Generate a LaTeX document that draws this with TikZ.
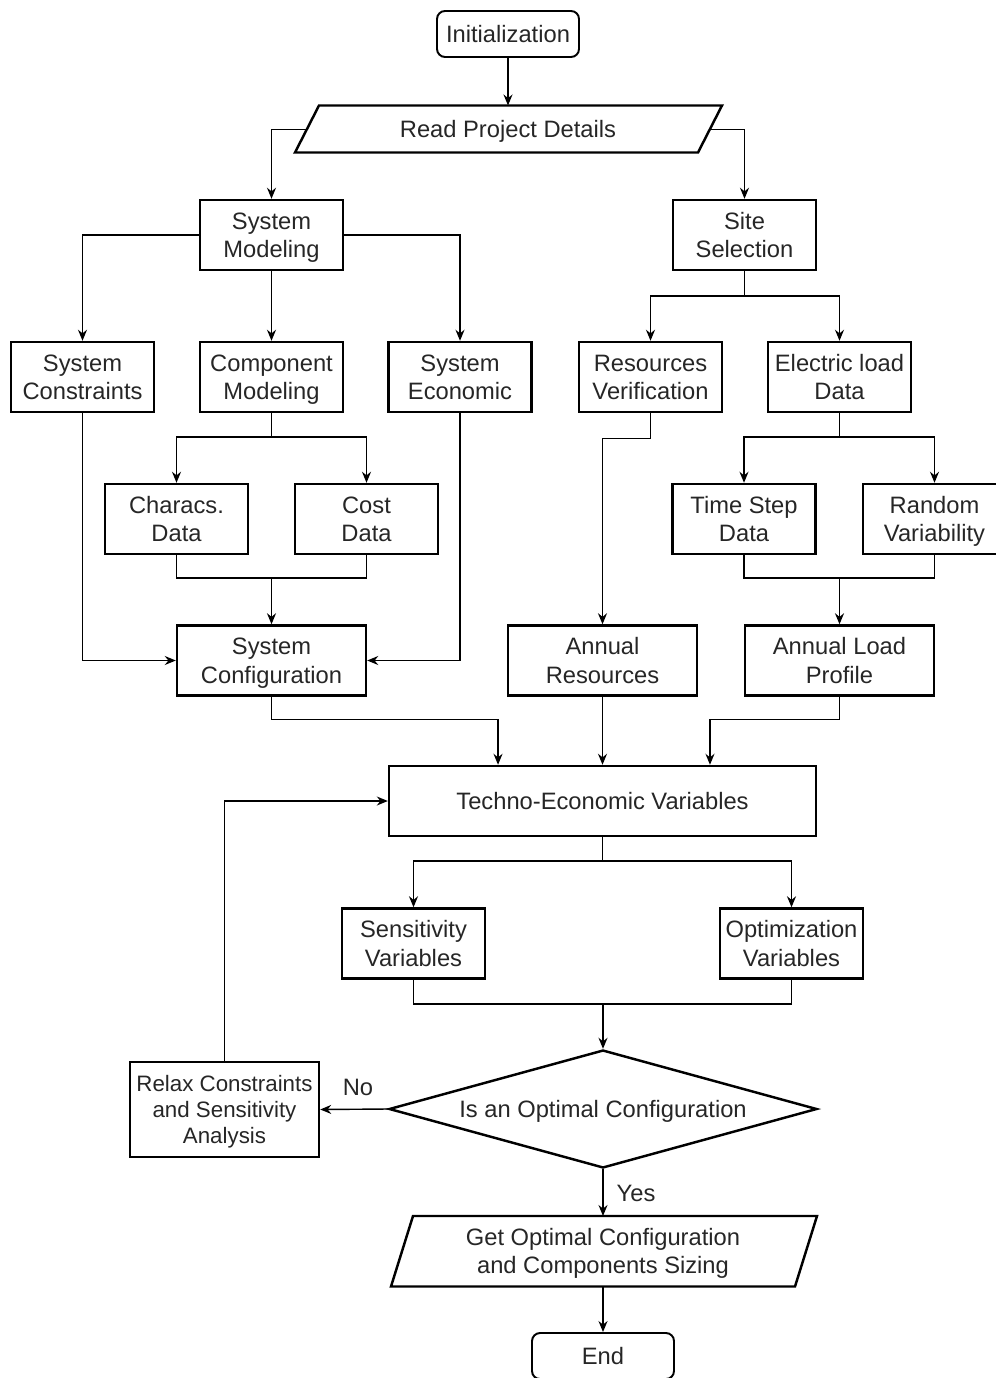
\documentclass[tikz,border=0pt]{standalone}
\usepackage{fontspec}
\setmainfont{Liberation Sans}
\usetikzlibrary{shapes.geometric,arrows.meta}
\newcommand\tl[1]{\begin{tabular}{@{}c@{}}\rule{0pt}{14.5pt}#1\end{tabular}}
\newcommand\tls[1]{\begin{tabular}{@{}c@{}}\rule{0pt}{13.5pt}#1\end{tabular}}
\begin{document}
\begin{tikzpicture}[x=0.02cm,y=-0.02cm,
 every node/.style={font=\fontsize{13.5}{16}\selectfont, align=center, text=black!85},
 box/.style={draw=black, line width=1.4pt, minimum width=2.86cm, minimum height=1.4cm, inner sep=0pt},
 wbox/.style={box, minimum width=3.78cm},
 term/.style={draw=black, line width=1.1pt, rounded corners=0.16cm, minimum width=2.84cm, minimum height=0.92cm, inner sep=0pt},
 para/.style={draw=black, line width=1.4pt, line join=miter},
 conn/.style={line width=0.8pt},
 arr/.style={conn, -{Stealth[length=2.2mm,width=1.8mm]}}
]
\useasboundingbox (0,0) rectangle (995,1378);

% terminals and data shapes
\node[term] (init) at (508,34) {\tl{Initialization}};
\draw[para] (319,105.5) -- (722,105.5) -- (698,152.5) -- (295,152.5) -- cycle;
\node[inner sep=0pt] (rpd) at (508,129) {\tl{Read Project Details}};
\coordinate (rpdT) at (508,105.5);
\coordinate (rpdL) at (307,129.5);
\coordinate (rpdR) at (710,129.5);

% boxes
\node[box] (sysmod) at (271.5,235) {\tl{System\\Modeling}};
\node[box] (site) at (744.5,235) {\tl{Site\\Selection}};
\node[box] (syscon) at (82.5,377) {\tl{System\\Constraints}};
\node[box] (compmod) at (271.5,377) {\tl{Component\\Modeling}};
\node[box] (syseco) at (460,377) {\tl{System\\Economic}};
\node[box] (resver) at (650.5,377) {\tl{Resources\\Verification}};
\node[box] (eld) at (839.5,377) {\tl{Electric load\\Data}};
\node[box] (charac) at (176.5,519) {\tl{Characs.\\Data}};
\node[box] (cost) at (366.5,519) {\tl{Cost\\Data}};
\node[box] (tsd) at (744,519) {\tl{Time Step\\Data}};
\node[box] (rv) at (934.5,519) {\tl{Random\\Variability}};
\node[wbox] (sysconf) at (271.5,660.5) {\tl{System\\Configuration}};
\node[wbox] (annres) at (602.5,660.5) {\tl{Annual\\Resources}};
\node[wbox] (alp) at (839.5,660.5) {\tl{Annual Load\\Profile}};
\node[box, minimum width=8.54cm] (tev) at (602.5,801) {\tl{Techno-Economic Variables}};
\node[box] (sv) at (413.5,943.5) {\tl{Sensitivity\\Variables}};
\node[box] (ov) at (791.5,943.5) {\tl{Optimization\\Variables}};
\node[diamond, draw=black, line width=1.4pt, aspect=3.63, minimum width=8.56cm, minimum height=2.36cm, inner sep=0pt] (dec) at (603,1109) {\tl{Is an Optimal Configuration}};
\node[wbox, minimum height=1.9cm, font=\fontsize{12.7}{14.8}\selectfont] (relax) at (224.5,1109.5) {\tls{Relax Constraints\\and Sensitivity\\Analysis}};
\draw[para] (413,1216) -- (817,1216) -- (795,1286.5) -- (391,1286.5) -- cycle;
\node[inner sep=0pt] (getopt) at (603,1251) {\tl{Get Optimal Configuration\\and Components Sizing}};
\coordinate (goT) at (603,1216);
\coordinate (goB) at (603,1286.5);
\node[term] (end) at (603,1356) {\tl{End}};

% labels
\node (nolbl) at (358,1087) {\tl{No}};
\node (yeslbl) at (636,1193) {\tl{Yes}};

% connectors
\draw[arr] (init) -- (rpdT);
\draw[arr] (rpdL) -| (sysmod);
\draw[arr] (rpdR) -| (site);
\draw[arr] (sysmod.west) -| (syscon);
\draw[arr] (sysmod.east) -| (syseco);
\draw[arr] (sysmod) -- (compmod);

\coordinate (s1) at (744.5,296);
\draw[conn] (site) -- (s1);
\draw[arr] (s1) -| (resver);
\draw[arr] (s1) -| (eld);

\coordinate (c1) at (271.5,437);
\draw[conn] (compmod) -- (c1);
\draw[arr] (c1) -| (charac);
\draw[arr] (c1) -| (cost);
\coordinate (c2) at (271.5,578);
\draw[conn] (charac.south) |- (c2) -| (cost.south);
\draw[arr] (c2) -- (sysconf);
\draw[arr] (syscon) |- (sysconf);
\draw[arr] (syseco) |- (sysconf);

\draw[arr] (resver.south) -- ++(0,25) -| (annres);

\coordinate (e1) at (839.5,437);
\draw[conn] (eld) -- (e1);
\draw[arr] (e1) -| (tsd);
\draw[arr] (e1) -| (rv);
\coordinate (e2) at (839.5,578);
\draw[conn] (tsd.south) |- (e2) -| (rv.south);
\draw[arr] (e2) -- (alp);

\draw[arr] (sysconf.south) -- ++(0,23) -| ([xshift=-2.09cm]tev.north);
\draw[arr] (annres) -- (tev);
\draw[arr] (alp.south) -- ++(0,23) -| ([xshift=2.15cm]tev.north);

\coordinate (t2) at (602.5,861);
\draw[conn] (tev) -- (t2);
\draw[arr] (t2) -| (sv);
\draw[arr] (t2) -| (ov);
\coordinate (t3) at (603,1004);
\draw[conn] (sv.south) |- (t3) -| (ov.south);
\draw[arr] (t3) -- (dec.north);

\draw[arr] (dec.west) -- (relax.east);
\draw[arr] (relax.north) |- (tev.west);
\draw[arr] (dec.south) -- (goT);
\draw[arr] (goB) -- (end.north);
\end{tikzpicture}
\end{document}
